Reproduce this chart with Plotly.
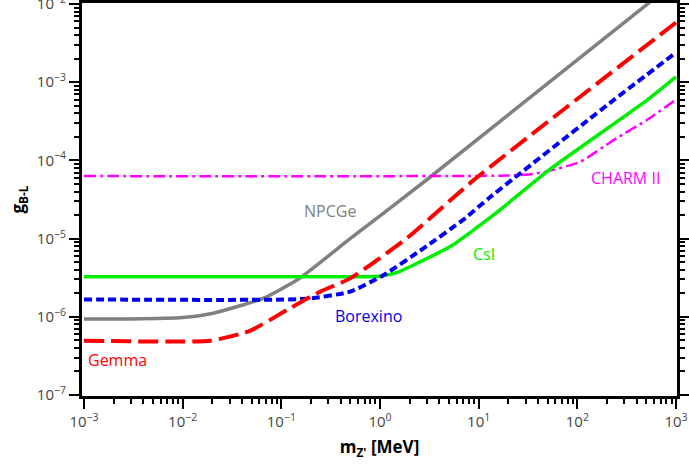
import plotly.graph_objects as go

# ---- data (m_Z' in MeV, g_B-L) ----
npcge_m = [1e-3, 3e-3, 1e-2, 0.0204, 0.066, 0.144, 0.31, 0.48, 3.0, 1000]
npcge_g = [9.4e-7, 9.4e-7, 9.8e-7, 1.11e-6, 1.73e-6, 2.95e-6, 6.2e-6, 9.6e-6, 5.7e-5, 1.95e-2]

gemma_m = [1e-3, 0.019, 0.048, 0.123, 0.248, 0.5, 1.87, 8.9, 1000]
gemma_g = [4.95e-7, 4.95e-7, 6.6e-7, 1.29e-6, 2.1e-6, 3.1e-6, 1.01e-5, 5.6e-5, 5.8e-3]

borexino_m = [1e-3, 0.18, 0.5, 1.09, 2.76, 7.0, 13.1, 233, 1000]
borexino_g = [1.67e-6, 1.7e-6, 2.1e-6, 3.42e-6, 7.5e-6, 1.75e-5, 3.4e-5, 5.9e-4, 2.4e-3]

csi_m = [1e-3, 0.5, 1.0, 1.5, 2.19, 5.15, 8.9, 16.6, 49.2, 509, 1000]
csi_g = [3.26e-6, 3.26e-6, 3.3e-6, 3.7e-6, 4.6e-6, 7.9e-6, 1.29e-5, 2.35e-5, 7.2e-5, 5.9e-4, 1.17e-3]

charm_m = [1e-3, 20, 35, 49, 107, 233, 509, 1000]
charm_g = [6.3e-5, 6.4e-5, 6.7e-5, 7.2e-5, 9.6e-5, 1.82e-4, 3.3e-4, 6.0e-4]

# curve labels: (text, log10 m, log10 g, colour)
label_text = ["NPCGe", "Gemma", "Borexino", "CsI", "CHARM II"]
label_logx = [-0.505, -2.665, -0.12, 1.057, 2.487]
label_logy = [-4.647, -6.552, -5.99, -5.197, -4.225]
label_color = ["#808080", "#ff0000", "#0000ee", "#00ee00", "#ff00ff"]

x_tickvals = [1e-3, 1e-2, 1e-1, 1e0, 1e1, 1e2, 1e3]
x_ticktext = ["10<sup>−3</sup>", "10<sup>−2</sup>", "10<sup>−1</sup>", "10<sup>0</sup>",
              "10<sup>1</sup>", "10<sup>2</sup>", "10<sup>3</sup>"]
y_tickvals = [1e-7, 1e-6, 1e-5, 1e-4, 1e-3, 1e-2]
y_ticktext = ["10<sup>−7</sup>", "10<sup>−6</sup>", "10<sup>−5</sup>", "10<sup>−4</sup>",
              "10<sup>−3</sup>", "10<sup>−2</sup>"]

x_minor = [k * 10.0 ** e for e in range(-3, 3) for k in range(2, 10)]
y_minor = [k * 10.0 ** e for e in range(-7, -2) for k in range(2, 10)]

smooth = dict(shape="spline", smoothing=0.5)

fig = go.Figure()
fig.add_trace(go.Scatter(x=npcge_m, y=npcge_g, mode="lines", name="NPCGe",
                         line=dict(color="#808080", width=3.5, **smooth)))
fig.add_trace(go.Scatter(x=charm_m, y=charm_g, mode="lines", name="CHARM II",
                         line=dict(color="#ff00ff", width=2.5, dash="12px,4px,3px,4px", **smooth)))
fig.add_trace(go.Scatter(x=csi_m, y=csi_g, mode="lines", name="CsI",
                         line=dict(color="#00ee00", width=3.5, **smooth)))
fig.add_trace(go.Scatter(x=borexino_m, y=borexino_g, mode="lines", name="Borexino",
                         line=dict(color="#0000ee", width=4, dash="8px,4px", **smooth)))
fig.add_trace(go.Scatter(x=gemma_m, y=gemma_g, mode="lines", name="Gemma",
                         line=dict(color="#ff0000", width=4, dash="20px,7px", **smooth)))

for t, lx, ly, c in zip(label_text, label_logx, label_logy, label_color):
    fig.add_annotation(x=lx, y=ly, text=t, showarrow=False,
                       font=dict(color=c, size=16, family="Open Sans"))

axis_common = dict(
    type="log", showline=True, linecolor="black", linewidth=3, mirror="ticks",
    ticks="outside", ticklen=10, tickwidth=1.5, tickcolor="black",
    showgrid=False, zeroline=False, automargin=False, ticklabeloverflow="allow",
    tickfont=dict(size=15, color="#444", family="Open Sans"),
)

fig.update_xaxes(
    **axis_common, range=[-3.02, 3.01], tickmode="array",
    tickvals=x_tickvals, ticktext=x_ticktext,
    minor=dict(ticks="outside", ticklen=5, tickwidth=1.5, tickcolor="black",
               tickmode="array", tickvals=x_minor, showgrid=False),
    title=dict(text="<b>m<sub>Z'</sub> [MeV]</b>", font=dict(size=17, color="black",
               family="Open Sans"), standoff=12),
)
fig.update_yaxes(
    **axis_common, range=[-7.013, -1.987], tickmode="array",
    tickvals=y_tickvals, ticktext=y_ticktext,
    minor=dict(ticks="outside", ticklen=5, tickwidth=1.5, tickcolor="black",
               tickmode="array", tickvals=y_minor, showgrid=False),
    title=dict(text="<b>g<sub>B-L</sub></b>", font=dict(size=17, color="black",
               family="Open Sans"), standoff=8),
)

fig.update_layout(
    width=689, height=473,
    margin=dict(l=82, r=12, t=3, b=77, autoexpand=False),
    plot_bgcolor="white", paper_bgcolor="white",
    showlegend=False,
)

fig.write_html("out.html", config={"displayModeBar": False},
               post_script="document.body.style.margin='0';")
